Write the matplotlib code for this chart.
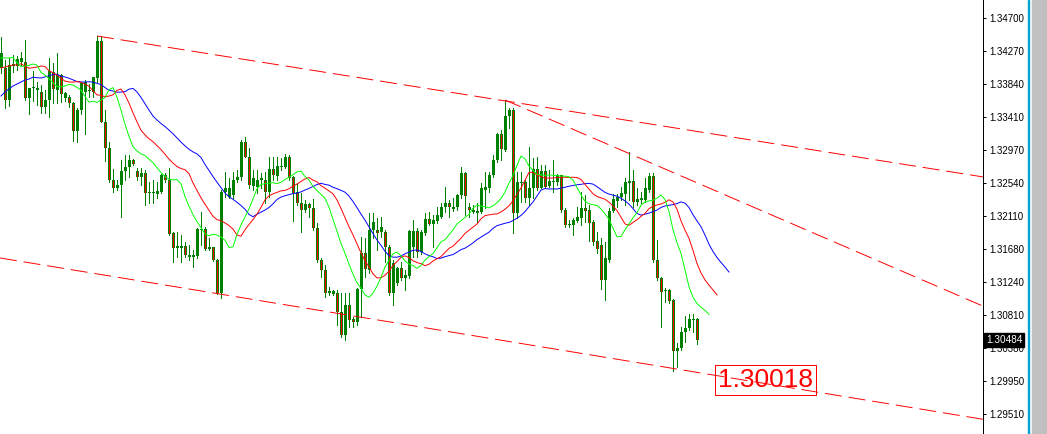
import matplotlib.pyplot as plt
import matplotlib.transforms as mtransforms
from matplotlib.patches import Rectangle
import numpy as np

plt.rcParams['lines.scale_dashes'] = False

# OHLC of the visible bars, oldest first
opens = [
    1.34049, 1.34049, 1.33629, 1.34075, 1.34075, 1.34127, 1.34127, 1.33655, 1.33790, 1.33760,
    1.33734, 1.33537, 1.33629, 1.33996, 1.33760, 1.33957, 1.33655, 1.33668, 1.33590, 1.33223,
    1.33498, 1.33734, 1.33747, 1.33734, 1.33917, 1.34403, 1.33341, 1.33000, 1.32580, 1.32475,
    1.32515, 1.32698, 1.32751, 1.32842, 1.32698, 1.32620, 1.32672, 1.32410, 1.32423, 1.32397,
    1.32423, 1.32646, 1.32580, 1.31885, 1.31689, 1.31715, 1.31715, 1.31597, 1.31571, 1.31584,
    1.31938, 1.31938, 1.31676, 1.31702, 1.31531, 1.31099, 1.32423, 1.32357, 1.32384, 1.32580,
    1.32620, 1.33078, 1.32882, 1.32502, 1.32488, 1.32580, 1.32580, 1.32423, 1.32724, 1.32633,
    1.32764, 1.32751, 1.32882, 1.32620, 1.32423, 1.32279, 1.32187, 1.32266, 1.32213, 1.31951,
    1.31531, 1.31400, 1.31125, 1.31086, 1.31099, 1.30850, 1.30548, 1.30941, 1.30758, 1.30719,
    1.31151, 1.31623, 1.31400, 1.31925, 1.31925, 1.31899, 1.31899, 1.31702, 1.31099, 1.31230,
    1.31427, 1.31295, 1.31322, 1.31702, 1.31912, 1.31636, 1.31885, 1.32069, 1.32003, 1.32043,
    1.32095, 1.32226, 1.32279, 1.32200, 1.32226, 1.32384, 1.32672, 1.32226, 1.32161, 1.32174,
    1.32161, 1.32449, 1.32475, 1.32646, 1.32842, 1.33183, 1.32974, 1.33419, 1.33498, 1.32148,
    1.32554, 1.32554, 1.32344, 1.32475, 1.32724, 1.32475, 1.32698, 1.32502, 1.32567, 1.32554,
    1.32646, 1.32187, 1.31990, 1.31990, 1.32043, 1.32082, 1.32213, 1.32187, 1.32030, 1.31781,
    1.31728, 1.31269, 1.31531, 1.32174, 1.32305, 1.32357, 1.32397, 1.32541, 1.32567, 1.32292,
    1.32318, 1.32318, 1.32449, 1.32633, 1.31531, 1.31295, 1.31125, 1.31138, 1.31007, 1.30338,
    1.30378, 1.30588, 1.30640, 1.30758, 1.30758,
]
highs = [
    1.34455, 1.34153, 1.34180, 1.34219, 1.34206, 1.34258, 1.34416, 1.33786, 1.34009, 1.33865,
    1.33826, 1.33760, 1.34180, 1.34114, 1.34245, 1.33970, 1.33734, 1.33695, 1.33603, 1.33524,
    1.33865, 1.33891, 1.33839, 1.33935, 1.34468, 1.34468, 1.33498, 1.33078, 1.32724, 1.32580,
    1.32842, 1.32908, 1.32908, 1.32856, 1.32738, 1.32738, 1.32711, 1.32554, 1.32580, 1.32554,
    1.32659, 1.32672, 1.32738, 1.31899, 1.31899, 1.31859, 1.31767, 1.31728, 1.31663, 1.31951,
    1.32161, 1.31964, 1.31820, 1.31705, 1.31545, 1.32449, 1.32685, 1.32606, 1.32685, 1.32711,
    1.33105, 1.33144, 1.33000, 1.32711, 1.32711, 1.32672, 1.32685, 1.32882, 1.32882, 1.32882,
    1.32869, 1.32921, 1.32908, 1.32633, 1.32541, 1.32410, 1.32318, 1.32279, 1.32331, 1.32017,
    1.31558, 1.31466, 1.31177, 1.31138, 1.31138, 1.31099, 1.31099, 1.31099, 1.30784, 1.31164,
    1.31833, 1.31820, 1.32148, 1.32148, 1.32082, 1.32095, 1.31925, 1.31728, 1.31531, 1.31440,
    1.31505, 1.31400, 1.31925, 1.32056, 1.31951, 1.31925, 1.32148, 1.32161, 1.32121, 1.32226,
    1.32279, 1.32488, 1.32318, 1.32344, 1.32390, 1.32751, 1.32685, 1.32279, 1.32252, 1.32279,
    1.32541, 1.32685, 1.32685, 1.32908, 1.33196, 1.33236, 1.33629, 1.33524, 1.33524, 1.32685,
    1.32685, 1.32580, 1.33013, 1.32869, 1.32882, 1.32777, 1.32777, 1.32711, 1.32842, 1.32659,
    1.32650, 1.32213, 1.32056, 1.32082, 1.32226, 1.32423, 1.32384, 1.32252, 1.32056, 1.31899,
    1.31820, 1.31767, 1.32213, 1.32397, 1.32397, 1.32488, 1.32606, 1.32947, 1.32711, 1.32475,
    1.32423, 1.32606, 1.32672, 1.32672, 1.31794, 1.31309, 1.31164, 1.31151, 1.31020, 1.30443,
    1.30653, 1.30797, 1.30824, 1.30824, 1.30771,
]
lows = [
    1.33983, 1.33524, 1.33550, 1.33996, 1.34022, 1.34088, 1.33629, 1.33446, 1.33616, 1.33563,
    1.33459, 1.33459, 1.33406, 1.33590, 1.33590, 1.33603, 1.33616, 1.33537, 1.33092, 1.33078,
    1.33446, 1.33183, 1.33668, 1.33668, 1.33865, 1.33335, 1.32829, 1.32554, 1.32423, 1.32449,
    1.32095, 1.32580, 1.32620, 1.32777, 1.32580, 1.32515, 1.32252, 1.32279, 1.32279, 1.32344,
    1.32410, 1.32554, 1.31859, 1.31505, 1.31571, 1.31505, 1.31571, 1.31531, 1.31440, 1.31558,
    1.31728, 1.31663, 1.31663, 1.31518, 1.31086, 1.31033, 1.32357, 1.32344, 1.32344, 1.32554,
    1.32580, 1.32878, 1.32475, 1.32449, 1.32410, 1.32475, 1.32279, 1.32357, 1.32580, 1.32580,
    1.32711, 1.32738, 1.32580, 1.32043, 1.32252, 1.31899, 1.32161, 1.32095, 1.31925, 1.31505,
    1.31309, 1.31046, 1.31073, 1.31073, 1.30679, 1.30522, 1.30483, 1.30653, 1.30653, 1.30679,
    1.30784, 1.31309, 1.31361, 1.31820, 1.31663, 1.31833, 1.31505, 1.31073, 1.30941, 1.31204,
    1.31269, 1.31138, 1.31295, 1.31571, 1.31571, 1.31610, 1.31859, 1.31990, 1.31702, 1.32017,
    1.32082, 1.32161, 1.32095, 1.32174, 1.32187, 1.32344, 1.32121, 1.32095, 1.32148, 1.32030,
    1.32148, 1.32213, 1.32423, 1.32620, 1.32816, 1.32842, 1.32960, 1.33262, 1.31885, 1.32082,
    1.32292, 1.32292, 1.32252, 1.32344, 1.32449, 1.32470, 1.32475, 1.32488, 1.32423, 1.32515,
    1.32161, 1.31964, 1.31964, 1.31859, 1.32030, 1.31990, 1.32030, 1.31781, 1.31728, 1.31623,
    1.31151, 1.31007, 1.31505, 1.32161, 1.32226, 1.32318, 1.32252, 1.32318, 1.32226, 1.32252,
    1.32279, 1.32292, 1.32423, 1.31505, 1.31269, 1.30653, 1.30981, 1.30968, 1.30070, 1.30129,
    1.30352, 1.30456, 1.30614, 1.30588, 1.30430,
]
closes = [
    1.34245, 1.33629, 1.34088, 1.34101, 1.34167, 1.34180, 1.33655, 1.33786, 1.33786, 1.33786,
    1.33537, 1.33629, 1.34009, 1.33773, 1.33957, 1.33708, 1.33721, 1.33590, 1.33223, 1.33498,
    1.33852, 1.33865, 1.33744, 1.33931, 1.34403, 1.33341, 1.33000, 1.32580, 1.32475, 1.32515,
    1.32698, 1.32751, 1.32842, 1.32790, 1.32620, 1.32672, 1.32410, 1.32423, 1.32410, 1.32436,
    1.32646, 1.32580, 1.31872, 1.31689, 1.31715, 1.31689, 1.31597, 1.31571, 1.31597, 1.31938,
    1.31925, 1.31676, 1.31702, 1.31531, 1.31099, 1.32423, 1.32475, 1.32475, 1.32580, 1.32620,
    1.33078, 1.32882, 1.32515, 1.32606, 1.32580, 1.32606, 1.32423, 1.32724, 1.32646, 1.32764,
    1.32751, 1.32882, 1.32606, 1.32410, 1.32279, 1.32187, 1.32266, 1.32213, 1.31951, 1.31531,
    1.31400, 1.31099, 1.31099, 1.31125, 1.30850, 1.30548, 1.30941, 1.30745, 1.30719, 1.31151,
    1.31623, 1.31413, 1.31925, 1.32030, 1.31885, 1.31964, 1.31702, 1.31099, 1.31492, 1.31427,
    1.31295, 1.31335, 1.31912, 1.31912, 1.31636, 1.31899, 1.32069, 1.32003, 1.32056, 1.32121,
    1.32226, 1.32279, 1.32226, 1.32226, 1.32384, 1.32672, 1.32370, 1.32187, 1.32187, 1.32148,
    1.32475, 1.32488, 1.32646, 1.32842, 1.33183, 1.32987, 1.33419, 1.33498, 1.32148, 1.32554,
    1.32541, 1.32344, 1.32475, 1.32724, 1.32475, 1.32698, 1.32488, 1.32567, 1.32554, 1.32646,
    1.32187, 1.31990, 1.32003, 1.32056, 1.32095, 1.32213, 1.32174, 1.32017, 1.31767, 1.31676,
    1.31269, 1.31558, 1.32174, 1.32331, 1.32357, 1.32410, 1.32554, 1.32567, 1.32292, 1.32331,
    1.32344, 1.32475, 1.32633, 1.31531, 1.31295, 1.31112, 1.31138, 1.30994, 1.30338, 1.30378,
    1.30588, 1.30640, 1.30758, 1.30745, 1.30484,
]

# Alligator values shown left of the first computed point
jaw_lead = [1.33681, 1.33734, 1.33773, 1.33813, 1.33839, 1.33865, 1.33891, 1.33904]
teeth_lead = [1.34049, 1.34062, 1.34075, 1.34088, 1.34088]
lips_lead = [1.34180, 1.34180, 1.34180]

price_ticks = [1.34700, 1.34270, 1.33840, 1.33410, 1.32970, 1.32540, 1.32110,
               1.31680, 1.31240, 1.30810, 1.30380, 1.29950, 1.29510]
last_price = 1.30484
low_label = "1.30018"

# trend lines as (bar, price) anchors
trend_upper = [(24, 1.34468), (244, 1.32633)]
trend_mid = [(126, 1.33629), (244.25, 1.30955)]
trend_lower = [(-0.25, 1.31558), (243.5, 1.29460)]

GREEN = '#008000'
PX = 0.72   # one pixel in points at dpi 100


def smma(values, period, start):
    out = []
    prev = start
    for v in values:
        prev = (prev * (period - 1) + v) / period
        out.append(prev)
    return out


o = np.array(opens)
h = np.array(highs)
l = np.array(lows)
c = np.array(closes)
x = np.arange(len(c))
median = (h + l) / 2

fig = plt.figure(figsize=(10.47, 4.34), dpi=100)
ax = fig.add_axes([0, 0, 983 / 1047, 1])
x_lo, x_hi = -0.25, 245.5
ax.set_xlim(x_lo, x_hi)
ax.set_ylim(1.29250, 1.34940)
one_px = (1.34940 - 1.29250) / 434

# candles
ax.vlines(x, l, h, color=GREEN, lw=PX, antialiased=False, zorder=2)
body_lo = np.minimum(o, c)
body_hi = np.maximum(o, c)
body_h = np.maximum(body_hi - body_lo, one_px)
ax.bar(x, body_h, bottom=body_lo, width=0.75, color=GREEN, lw=0, antialiased=False, zorder=3)
bear = c < o
inner = bear & ((body_hi - body_lo) > 2.5 * one_px)
ax.vlines(x[inner], body_lo[inner] + one_px, body_hi[inner] - one_px,
          color='#FF0000', lw=PX, antialiased=False, zorder=4)

# Alligator: jaw (13, shift 8), teeth (8, shift 5), lips (5, shift 3)
for lead, period, color in [(jaw_lead, 13, '#0000FF'),
                            (teeth_lead, 8, '#FF0000'),
                            (lips_lead, 5, '#00FF00')]:
    vals = list(lead) + smma(median, period, lead[-1])
    ax.plot(np.arange(len(vals)), vals, color=color, lw=0.7, zorder=5)

# trend lines extended to the right edge
for (x0, y0), (x1, y1) in [trend_upper, trend_mid, trend_lower]:
    slope = (y1 - y0) / (x1 - x0)
    ax.plot([x0, x_hi], [y0, y0 + slope * (x_hi - x0)], color='#FF0000', lw=0.7,
            dashes=(12.2, 5.0), zorder=6)

ax.text(179.3, 1.29866, low_label, color='#FF0000', fontsize=19,
        family='Liberation Sans', ha='left', va='baseline', zorder=7,
        bbox=dict(boxstyle='square,pad=0.12', fc='none', ec='#FF0000', lw=PX))

# price axis
for side in ['left', 'top', 'bottom']:
    ax.spines[side].set_visible(False)
ax.spines['right'].set_linewidth(PX)
ax.set_xticks([])
ax.yaxis.tick_right()
ax.set_yticks(price_ticks)
ax.set_yticklabels(['%.5f' % p for p in price_ticks])
ax.tick_params(axis='y', length=2.2, width=PX, pad=2, labelsize=7)
for lab in ax.get_yticklabels():
    lab.set_family('Liberation Sans')

trans = mtransforms.blended_transform_factory(ax.transAxes, ax.transData)
ax.text(1.003, last_price, '%.5f' % last_price, transform=trans, color='white',
        fontsize=7.2, family='Liberation Sans', ha='left', va='center', zorder=8,
        bbox=dict(boxstyle='square,pad=0.2', fc='black', ec='black'), clip_on=False)

fig.patches.append(Rectangle((1027.5 / 1047, 0), 1.6 / 1047, 1, transform=fig.transFigure,
                             color='#00A8D0', zorder=0))
fig.patches.append(Rectangle((1032 / 1047, 0), 15 / 1047, 1, transform=fig.transFigure,
                             color='#C0C0C0', zorder=0))

fig.savefig('out.png', dpi=100)
